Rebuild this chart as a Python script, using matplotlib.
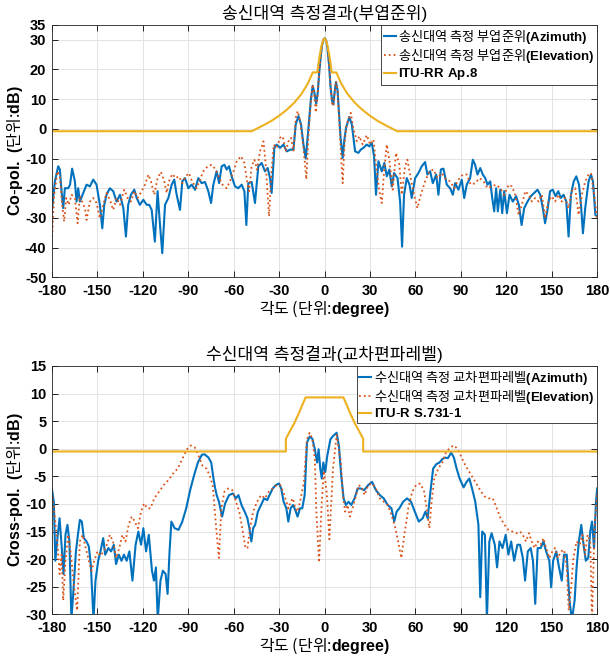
import numpy as np
import matplotlib.pyplot as plt

plt.rcParams['font.family'] = ['Liberation Sans', 'Noto Sans CJK KR']
# mixed text: Korean in regular CJK font, latin parts in bold Arial-like font
plt.rcParams['mathtext.fontset'] = 'custom'
plt.rcParams['mathtext.rm'] = 'Noto Sans CJK KR'
plt.rcParams['mathtext.bf'] = 'Liberation Sans:bold'
plt.rcParams['axes.unicode_minus'] = False
KR = 'Noto Sans CJK KR'

# ---- 송신대역 (Co-pol) ----
tx_az_deg = [-180, -178, -175.8, -174.7, -173.6, -172.5, -171.4, -169.2, -168, -166.6,
             -164.8, -163.7, -162.6, -161.5, -159.3, -157.1, -154.9, -152.7, -150.5, -148.3,
             -146.7, -145.4, -143.9, -141.7, -139.5, -137.3, -135, -132.8, -131.1, -129.6,
             -127.8, -125.6, -124, -121.9, -119.6, -117.4, -115.7, -114.1, -112, -110.2,
             -108.6, -107.1, -105.3, -103.1, -100.9, -99.2, -97.6, -95.4, -93.9, -92.1,
             -89.9, -87.7, -85.5, -83.3, -81.1, -78.9, -76.7, -74.9, -73.4, -71.2,
             -69.6, -67.9, -66.1, -64.6, -63, -61.3, -59.1, -56.9, -54.7, -52.9,
             -51.6, -50.3, -48.1, -45.9, -43.7, -41.5, -39.3, -37.5, -36, -34.9,
             -33.1, -31.6, -29.3, -27.1, -24.9, -22.7, -20.5, -19, -17.2, -15.5,
             -13.9, -12.4, -10.6, -9, -7.8, -6.8, -5.5, -4.5, -3.5, -2.5,
             -1.5, -0.5, 0.3, 1.2, 2, 3, 4, 5, 5.8, 6.8,
             7.6, 8.6, 9.6, 10.6, 12, 13, 14.2, 16.4, 18, 20.2,
             22.4, 23.9, 25.7, 27.9, 29.6, 31.2, 32.7, 34, 35.6, 37.8,
             39.5, 41.1, 42.8, 44.4, 45.9, 48.2, 49.9, 51.2, 52.5, 54.3,
             56.1, 57.6, 59.8, 62, 64.2, 66.4, 67.9, 69.7, 71.5, 73.7,
             75.2, 76.8, 78.5, 80.7, 82.9, 84.7, 86.2, 88.4, 90.6, 92.2,
             93.9, 96.1, 97.9, 99.4, 101, 102.8, 104.5, 106.1, 107.6, 109.4,
             110.7, 112, 113.3, 114.4, 116, 117.3, 118.6, 120.4, 122.1, 124.3,
             126.5, 128.3, 130.1, 131.8, 134, 136.2, 138.4, 140.6, 142.4, 144.1,
             145.6, 147.2, 148.9, 150.7, 152.5, 154.3, 156, 157.8, 159.6, 161.1,
             162.7, 164.5, 166.2, 168, 169.3, 170.6, 172.1, 174.3, 175.9, 177.2,
             178.8, 180]
tx_az_val = [-27.8, -17.7, -12.6, -13.7, -21, -26.7, -20, -20, -18.8, -13.4,
             -17.7, -24.5, -20, -24.5, -21.6, -18.8, -19.4, -17.1, -18.8, -25.6,
             -33.5, -25.6, -22.2, -20, -21, -24.5, -22.2, -26.7, -36.3, -25.6,
             -22.2, -20.5, -23.3, -25.6, -23.9, -25.6, -25.6, -27.3, -38, -21,
             -32.4, -41.9, -25.6, -23.3, -18.8, -17.1, -22.2, -27.3, -17.7, -16.6,
             -20, -18.8, -20.5, -16.6, -18.3, -17.9, -21, -25, -18.8, -14.3,
             -18.3, -12.6, -12.1, -13.7, -12.6, -16, -19.4, -20, -18.8, -21,
             -32.4, -18.3, -17.9, -25, -12.6, -11.5, -14.3, -13.2, -16.6, -21.6,
             -6.4, -5.3, -6.4, -5.3, -7.6, -7, -7, 1.5, 4.3, 1.5,
             -5.3, -10, 0.3, 10, 14.5, 12.5, 8.5, 12, 19, 24.5,
             28.5, 30.3, 30.5, 29.5, 27, 21.5, 14, 9.5, 8.2, 13,
             15.8, 13, 5, -3, -9.8, -4, 0.3, 4, 1.5, -7.6,
             -8.1, -7, -6.4, -5.3, -5.9, -4.7, -9.2, -22.2, -10.9, -14.3,
             -11.5, -16, -13.7, -19.4, -14.9, -16.6, -24.5, -39.7, -22.2, -16.6,
             -18.8, -23.3, -16.6, -14.9, -12.6, -11.2, -15.4, -14.3, -18.3, -15.4,
             -22.2, -13.7, -13.4, -18.8, -20, -22.2, -18.3, -20.5, -17.1, -23.3,
             -18.8, -16.6, -10.4, -12.1, -15.4, -13.2, -15.4, -16.6, -18.8, -17.7,
             -23.3, -27.8, -20, -27.8, -20.5, -28.4, -21, -28.4, -22.2, -24.5,
             -22.7, -25.6, -32.4, -26.7, -24.5, -22.7, -21.6, -20.5, -22.2, -26.7,
             -31.8, -27.3, -21, -20.5, -22.7, -21, -23.3, -22.2, -24.5, -36.3,
             -22.2, -17.7, -16, -18.8, -25.6, -35.2, -26.7, -17.7, -15.4, -17.7,
             -29, -29.5]

tx_el_deg = [-180, -178.5, -176.3, -174.7, -173.2, -171.9, -170.5, -168.8, -167, -164.8,
             -163, -161.5, -160, -158.2, -157.1, -154.9, -152.7, -150.5, -148.3, -146.1,
             -143.9, -141.7, -139.5, -137.3, -135, -132.2, -130, -127.8, -125.6, -123.4,
             -120.7, -118.5, -116.3, -114.6, -112.4, -110.2, -108, -105.8, -104.2, -102.7,
             -100.5, -98.3, -96.1, -93.9, -91.7, -89.5, -87.3, -84.4, -82.2, -80,
             -77.1, -74.5, -71.9, -69.6, -67.4, -64.6, -62.4, -60.1, -57.9, -55.1,
             -52.9, -51.1, -49.8, -48.1, -46.3, -44.5, -42.6, -40.3, -38.8, -37.5,
             -36.6, -35.2, -33.5, -31.6, -29.3, -27.6, -25.6, -23.8, -22.1, -20.5,
             -19, -17.7, -16.1, -13.9, -12, -10.6, -9, -7.8, -6.8, -5.8,
             -4.8, -3.5, -2.5, -1.5, -0.5, 0.3, 1.2, 2, 3, 4,
             5, 5.8, 6.8, 7.6, 8.6, 9.6, 10.8, 12, 13.2, 14.6,
             17.3, 19, 21.3, 23, 25.2, 27.9, 30.1, 32.3, 34.5, 36.2,
             37.8, 39.3, 41.1, 42.8, 45, 47.2, 49.4, 51, 53.2, 54.7,
             56.9, 59.1, 61.3, 63.6, 66.4, 69.3, 71.9, 74.5, 77.4, 80.3,
             82.9, 85.6, 88.4, 91.3, 93.9, 96.6, 99.4, 102.3, 105, 107.6,
             110.5, 113.3, 116, 118.6, 121.6, 123.7, 125.9, 128.1, 130.3, 132.5,
             134.7, 136.9, 139.1, 141.3, 143.5, 145.6, 147.8, 150, 152.2, 154.4,
             156.6, 158.8, 161.1, 163.2, 165.5, 167.7, 169.9, 172.1, 174.3, 175.9,
             177.7, 180]
tx_el_val = [-38, -22.2, -14.3, -16, -25.6, -31.2, -23.3, -25.6, -22.2, -23.3,
             -31.8, -22.7, -24.5, -26.7, -30.7, -24.5, -23.3, -25, -30.1, -25.6,
             -21.6, -23.9, -27.3, -23.3, -25.6, -20.5, -23.3, -24.5, -21, -23.3,
             -21, -18.8, -15.4, -17.7, -22.2, -16.6, -14.5, -17.7, -21.6, -17.7,
             -15.2, -16.6, -16, -18.3, -16, -14.9, -17.9, -20, -17.1, -14.3,
             -12.6, -12.1, -13.7, -16.6, -18.8, -20, -17.7, -14.3, -10.9, -9.2,
             -11.5, -17.7, -21, -12.6, -10.4, -13.7, -7.6, -4.2, -12.1, -22.2,
             -29.5, -15.4, -5.3, -6.4, -3, -2.5, -7.6, -4.2, -3, -7.6,
             3.7, 6, 2.6, -6.4, -17, -1.9, 9, 15, 12, 5.5,
             10, 19, 24.5, 28.5, 30.3, 30.5, 29.5, 27, 21.5, 14,
             8.5, 7.7, 13, 16, 13, 4, -8, -18.3, -5, 1.5,
             5.4, 0.3, -4.2, -2.5, -5.3, -2.1, -5.3, -3.6, -14.3, -21,
             -25, -14.3, -5.3, -10.4, -20.5, -8.1, -12.1, -22.2, -12.6, -10.4,
             -16.6, -22.2, -26.7, -22.2, -17.7, -14.3, -13.7, -16.6, -14.9, -17.1,
             -17.7, -20, -17.1, -15.4, -15.4, -18.8, -18.3, -16.6, -17.7, -20,
             -19.4, -18.8, -20, -22.2, -18.8, -19.4, -22.2, -29, -25.6, -21,
             -22.2, -24.5, -23.3, -24.5, -22.2, -30.1, -24.5, -22.7, -24.5, -22.2,
             -24.5, -23.3, -26.7, -21, -20, -29, -22.2, -17.7, -15.4, -14.9,
             -21, -30.7]

ap8_deg = [-180, -48, -40, -35, -30, -25, -20, -15, -11, -7.8, -4.8, -4, -3, -2, -1, 0,
           1, 2, 3, 4, 4.8, 7.8, 11, 15, 20, 25, 30, 35, 40, 48, 180]
ap8_val = [-0.8, -0.8, 1.3, 2.7, 4.4, 6.4, 8.8, 11.9, 15.3, 19, 19, 22, 25.2, 28, 29.8, 30.5,
           29.8, 28, 25.2, 22, 19, 19, 15.3, 11.9, 8.8, 6.4, 4.4, 2.7, 1.3, -0.8, -0.8]

# ---- 수신대역 (Cross-pol) ----
rx_az_deg = [-180, -178.7, -177.7, -176.1, -174.9, -173.6, -172.3, -171, -169.7, -168.4,
             -167.1, -165.9, -164.1, -162.8, -161.5, -160.2, -158.9, -157.1, -155.6, -154.3,
             -152.5, -151.2, -149.4, -147.9, -146.1, -144.8, -142.7, -140.9, -139.1, -137.6,
             -135.8, -134, -132.4, -130.6, -128.8, -126.8, -124.7, -122.9, -121.1, -119.6,
             -117.8, -116, -113.9, -112.6, -111.3, -110.1, -108.3, -106.7, -104.9, -103.6,
             -102.3, -101.1, -99, -96.4, -93.9, -91.3, -88.7, -86.1, -83.6, -81,
             -79.2, -76.6, -74.8, -73.3, -72.3, -71.2, -69.7, -67.6, -65.6, -63,
             -60.4, -58.6, -56.8, -54.8, -52.7, -50.9, -49.6, -48.3, -47.1, -45.8,
             -44, -41.9, -39.9, -37.8, -36.3, -34.2, -32.2, -30.1, -28.6, -27,
             -25.2, -23.9, -22.4, -20.8, -19.3, -17.8, -16.2, -14.7, -13.1, -11.6,
             -9.8, -8, -6.4, -4.9, -3.9, -2.8, -1.8, -0.8, 0.5, 1.8,
             3.9, 5.6, 8, 9.5, 11, 12.6, 14.1, 15.9, 17.7, 19.8,
             21.9, 23.9, 26.2, 28.8, 31.4, 33.9, 36.5, 39.1, 41.7, 44.2,
             46, 47.6, 49.4, 51.9, 54.5, 57.1, 59.6, 62.2, 64.8, 66.6,
             68.1, 69.9, 71.7, 73.8, 75.9, 77.7, 79.4, 81.5, 83.6, 85.4,
             87.2, 89.2, 91.8, 93.8, 95.6, 97.4, 99.5, 101.6, 102.8, 104.1,
             105.9, 107.2, 108.8, 110.3, 112.4, 113.9, 115.5, 117.5, 119.6, 121.4,
             123.2, 125.2, 127.3, 129.1, 130.9, 132.4, 134.2, 136.1, 137.6, 139.1,
             140.7, 142.7, 144.5, 146.3, 148.4, 149.6, 150.9, 153, 154.8, 156.6,
             158.1, 159.9, 161.7, 163.3, 165.1, 166.4, 167.9, 169.5, 171, 172.5,
             174.1, 175.4, 176.6, 177.9, 179.2, 180]
rx_az_val = [-7.2, -9.6, -20.3, -15.6, -12.6, -17.4, -22.7, -15.6, -13.8, -16.8,
             -31, -26.3, -18.6, -15.6, -12.9, -13.2, -16.2, -16.8, -17.7, -20.9,
             -31, -23.9, -20.3, -18.6, -16.2, -19.2, -18, -18.6, -17.4, -20.9,
             -19.2, -20.3, -19.2, -20.3, -18.6, -23.9, -17.4, -15, -17.4, -14.4,
             -18.6, -15.6, -22.1, -23.9, -21.5, -31, -23.9, -22.1, -22.7, -26.3,
             -18.6, -13.2, -14.4, -14.7, -13.2, -10.8, -7.5, -4.8, -2.5, -1.1,
             -1, -1.6, -2.5, -5.4, -7, -8.4, -9.6, -12.3, -9.9, -8.4,
             -8.1, -9, -8.4, -10.2, -11.4, -12.6, -14.4, -16.8, -14.4, -13.8,
             -11.4, -10.2, -9, -9.3, -8.4, -7.2, -6.6, -6.3, -7.2, -9.6,
             -10.8, -13.2, -10.8, -10.2, -11.1, -12.3, -10.8, -10.8, -8.4, 1.1,
             2.2, 1.8, -0.1, -2.5, -0.1, -3.6, -5.4, -2.5, -4.2, -1.3,
             1.7, 2.3, 2.9, 0.5, -4.8, -9, -10.2, -9.6, -10.2, -9,
             -7.2, -7.2, -7.5, -6.6, -6, -7.5, -8.4, -9, -10.2, -10.8,
             -13.2, -11.4, -10.8, -9.6, -9, -9.6, -11.4, -13.2, -12.6, -11.4,
             -12.6, -7.8, -3.6, -2.8, -2.5, -1.9, -1.6, -1.7, -0.7, -1.6,
             -3.6, -5.4, -7, -6, -5.4, -7.2, -9.6, -13.8, -26.9, -15,
             -15.6, -31, -16.8, -15.3, -17.4, -21.5, -16.8, -18, -15.6, -19.2,
             -16.8, -20.3, -17.4, -17.4, -19.8, -23.9, -18.6, -18, -20.3, -28.1,
             -18, -18, -16.8, -18.6, -20.3, -25.1, -20.3, -18.6, -21.5, -23.9,
             -19.2, -19.2, -27.5, -31, -27.5, -21.5, -16.8, -13.8, -17.4, -20.3,
             -19.8, -15, -13.2, -18, -9.6, -7.2]

rx_el_deg = [-180, -178.2, -176.4, -174.9, -173.6, -172.5, -171, -169.2, -167.4, -165.3,
             -163.3, -161.5, -159.7, -157.6, -155.6, -153.8, -152, -149.9, -147.9, -145.8,
             -143.7, -141.7, -139.6, -137.6, -135.5, -133.5, -131.4, -129.3, -127.3, -125.2,
             -123.2, -121.1, -119.1, -117, -114.9, -112.4, -109.3, -106.2, -103.1, -100,
             -96.9, -93.9, -90.8, -88.2, -85.6, -83.1, -80.5, -77.9, -75.9, -73.8,
             -71.5, -69.7, -68.1, -66.1, -63.5, -60.9, -58.4, -56.3, -54.3, -52.2,
             -50.9, -49.1, -47.1, -44.5, -41.9, -39.3, -36.8, -34.2, -31.6, -29.1,
             -26.5, -23.9, -22.4, -20.8, -19.3, -17.8, -15.7, -13.6, -11.6, -9.8,
             -8, -6.4, -5.4, -3.6, -1.8, -0.4, 1.5, 3.2, 5.6, 8,
             10.8, 12.1, 13.6, 15.2, 16.7, 18.5, 20.3, 22.4, 24.4, 26.5,
             28.8, 31.4, 33.9, 36.5, 39.1, 41.7, 44.2, 46.8, 48.6, 50.7,
             52.7, 55.3, 57.9, 60.4, 63, 65.6, 67.4, 69.2, 70.7, 72.5,
             75.1, 77.7, 80.2, 82.8, 85.4, 88, 90.5, 93.1, 95.6, 98.2,
             100.8, 103.4, 105.9, 108.5, 111.1, 113.7, 116.2, 118.8, 121.4, 123.9,
             126.5, 129.1, 130.9, 133, 135, 136.8, 138.6, 140.7, 142.7, 144.5,
             146.3, 148.4, 150.4, 152.2, 154, 156.1, 158.1, 159.9, 161.2, 162.8,
             164.3, 166.4, 168.4, 170.2, 172, 173.6, 175.4, 176.6, 178.2, 180]
rx_el_val = [-7.8, -12, -16.8, -22.7, -19.2, -27.5, -20.3, -15.6, -19.2, -25.1,
             -29.3, -16.8, -15.6, -18, -20.3, -22.1, -20.3, -18.6, -19.4, -18.6,
             -17.4, -15.6, -16.8, -19.8, -18, -15.6, -16.8, -13.8, -12.3, -13.2,
             -14.4, -11.4, -9.9, -10.8, -10.8, -9, -7.8, -6.6, -5.7, -4.5,
             -3.6, -1.9, -0.1, 0.6, 0.2, -1.3, -3.1, -3.6, -4.8, -6.6,
             -14.4, -19.8, -10.8, -7.8, -7.2, -7.5, -9.6, -11.4, -14.4, -18,
             -18, -14.4, -11.4, -9.6, -8.4, -9, -7.8, -7.2, -6.6, -6.6,
             -8.4, -10.8, -9.6, -9, -10.8, -11.4, -9, -6, 1.7, 2.9,
             1.7, -1.9, -11.4, -20.6, -9.6, -4, -8, -16.4, -3.6, 2.5,
             -2.5, -8.4, -11.4, -10.2, -12.3, -10.8, -9, -6.6, -6.9, -8.4,
             -6.6, -6.3, -7.2, -9, -9.6, -10.2, -12, -14.4, -16.8, -19.8,
             -15.6, -10.8, -7.8, -6.6, -6.3, -7.5, -10.8, -14.4, -9.6, -5.4,
             -3.6, -2.5, -0.7, 0.2, 0.6, -0.1, -1.6, -3.1, -4.2, -5.4,
             -6.6, -7.8, -8.7, -9, -9, -10.8, -12.6, -13.8, -14.7, -15,
             -15.3, -15, -15.6, -16.8, -15.3, -16.8, -18, -16.8, -17.4, -16.2,
             -18, -19.8, -18.6, -18, -19.8, -18.6, -18.3, -21.5, -29.3, -25.1,
             -19.8, -16.8, -17.4, -15.6, -19.2, -15.6, -16.8, -31, -14.4, -7.8]

s731_deg = [-180, -25.5, -25.5, -23, -20, -17, -15, -12.5, 12.5, 15, 17, 20, 23, 25.5, 25.5, 180]
s731_val = [-0.5, -0.5, 1.8, 3.1, 4.6, 6.4, 7.7, 9.3, 9.3, 7.7, 6.4, 4.6, 3.1, 1.8, -0.5, -0.5]

c_az = '#0072BD'
c_el = '#D95319'
c_mask = '#EDB120'

fig = plt.figure(figsize=(6.1, 6.57), dpi=100)
ax1 = fig.add_axes([0.085, 0.578, 0.894, 0.384])
ax2 = fig.add_axes([0.085, 0.065, 0.894, 0.378])

ax1.plot(tx_az_deg, tx_az_val, color=c_az, lw=1.5,
         label='송신대역 측정 부엽준위$\\mathbf{(Azimuth)}$')
ax1.plot(tx_el_deg, tx_el_val, color=c_el, lw=1.3, ls=':',
         label='송신대역 측정 부엽준위$\\mathbf{(Elevation)}$')
ax1.plot(ap8_deg, ap8_val, color=c_mask, lw=1.5,
         label='$\\mathbf{ITU}$-$\\mathbf{RR\\ Ap.\\!8}$')

ax2.plot(rx_az_deg, rx_az_val, color=c_az, lw=1.5,
         label='수신대역 측정 교차편파레벨$\\mathbf{(Azimuth)}$')
ax2.plot(rx_el_deg, rx_el_val, color=c_el, lw=1.3, ls=':',
         label='수신대역 측정 교차편파레벨$\\mathbf{(Elevation)}$')
ax2.plot(s731_deg, s731_val, color=c_mask, lw=1.5,
         label='$\\mathbf{ITU}$-$\\mathbf{R\\ S.\\!731}$-$\\mathbf{1}$')

xt = np.arange(-180, 181, 30)
for ax, yt, ylim, ylab, title in [
        (ax1, [-50, -40, -30, -20, -10, 0, 10, 20, 30, 35], (-50, 35),
         '$\\mathbf{Co}$-$\\mathbf{pol.\\ (}$단위:$\\mathbf{dB)}$', '송신대역 측정결과(부엽준위)'),
        (ax2, np.arange(-30, 16, 5), (-30, 15),
         '$\\mathbf{Cross}$-$\\mathbf{pol.\\ (}$단위:$\\mathbf{dB)}$', '수신대역 측정결과(교차편파레벨)')]:
    ax.set_xlim(-180, 180)
    ax.set_ylim(*ylim)
    ax.set_xticks(xt)
    ax.set_xticklabels([str(v) for v in xt], fontweight='bold', fontsize=10.5)
    ax.set_yticks(yt)
    ax.set_yticklabels([str(v) for v in yt], fontweight='bold', fontsize=10.5)
    ax.tick_params(direction='in', length=4, width=0.6, top=True, right=True)
    ax.tick_params(axis='x', pad=5)
    ax.tick_params(axis='y', pad=4)
    ax.grid(True, color='#e3e3e3', lw=0.7)
    ax.set_axisbelow(True)
    for s in ax.spines.values():
        s.set_color('#262626')
        s.set_linewidth(0.6)
    ax.set_xlabel('각도 (단위:$\\mathbf{degree)}$', fontsize=11.5, labelpad=0, fontfamily=KR)
    ax.set_ylabel(ylab, fontsize=11.5, labelpad=0, fontfamily=KR)
    ax.set_title(title, fontsize=12.3, pad=4)
    leg = ax.legend(loc='upper right', prop={'family': KR, 'size': 9.5},
                    handlelength=0.9, handletextpad=0.2,
                    borderaxespad=0.0, borderpad=0.2, labelspacing=0.1,
                    fancybox=False, framealpha=1)
    leg.get_frame().set_edgecolor('#262626')
    leg.get_frame().set_linewidth(0.6)

fig.savefig('out.png', dpi=100)
